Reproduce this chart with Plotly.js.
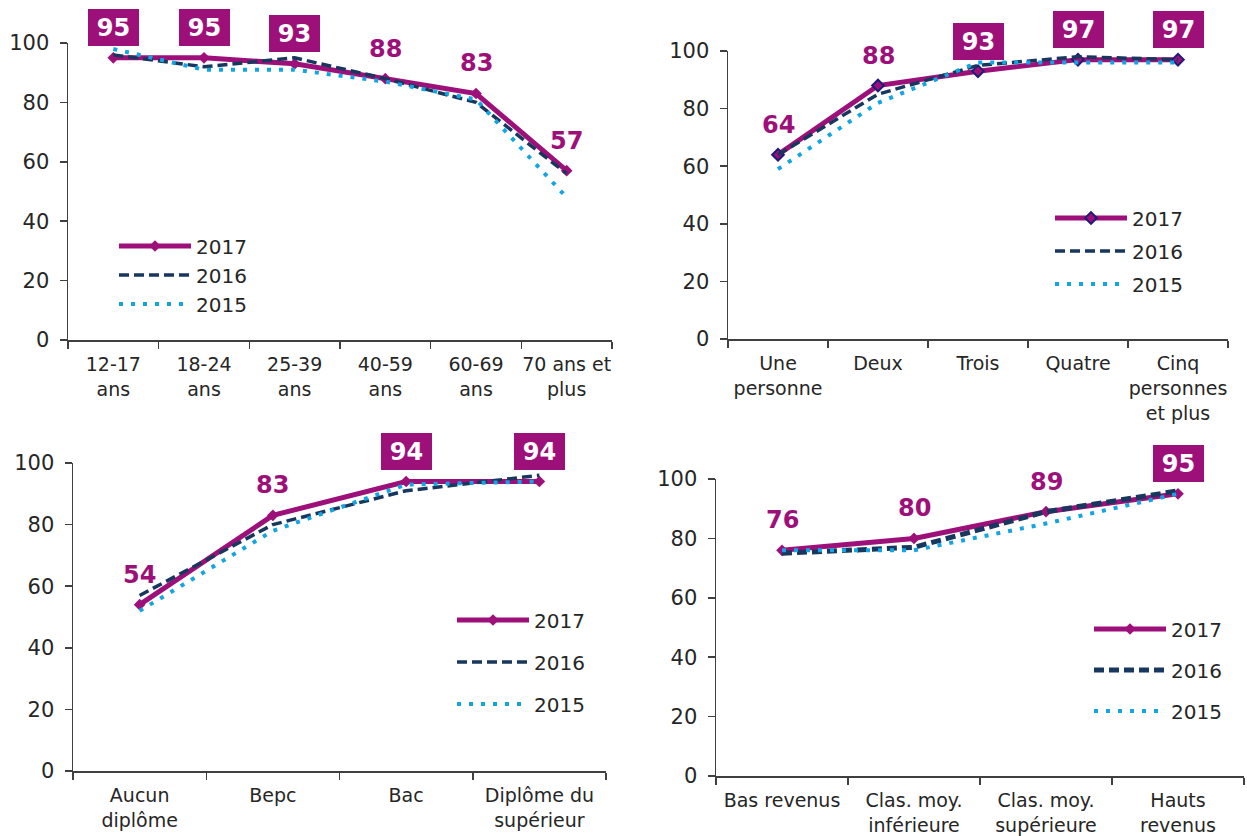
<!DOCTYPE html>
<html>
<head>
<meta charset="utf-8">
<script src="https://cdn.plot.ly/plotly-3.0.1.min.js"></script>
<style>
  html, body { margin: 0; padding: 0; background: #ffffff; }
  #chart { width: 1247px; height: 836px; }
</style>
</head>
<body>
<div id="chart"></div>
<script>
// ---------- DATA ----------
const years = ['2017', '2016', '2015'];

const ageCategories = ['12-17<br>ans', '18-24<br>ans', '25-39<br>ans', '40-59<br>ans', '60-69<br>ans', '70 ans et<br>plus'];
const age2017 = [95, 95, 93, 88, 83, 57];
const age2016 = [96, 92, 95, 88, 80, 56];
const age2015 = [98, 91, 91, 87, 81, 48];

const householdCategories = ['Une<br>personne', 'Deux', 'Trois', 'Quatre', 'Cinq<br>personnes<br>et plus'];
const household2017 = [64, 88, 93, 97, 97];
const household2016 = [64, 85, 95, 98, 97];
const household2015 = [59, 82, 96, 96, 96];

const diplomaCategories = ['Aucun<br>diplôme', 'Bepc', 'Bac', 'Diplôme du<br>supérieur'];
const diploma2017 = [54, 83, 94, 94];
const diploma2016 = [57, 80, 91, 96];
const diploma2015 = [52, 78, 93, 94];

const incomeCategories = ['Bas revenus', 'Clas. moy.<br>inférieure', 'Clas. moy.<br>supérieure', 'Hauts<br>revenus'];
const income2017 = [76, 80, 89, 95];
const income2016 = [75, 77, 89, 96];
const income2015 = [76, 76, 85, 95];

// ---------- STYLE ----------
const PURPLE = '#9D107A';
const NAVY = '#17375E';
const LIGHTBLUE = '#13A5E3';
const AXIS = '#404040';
const TEXT = '#262626';
const FONT = 'Verdana, "DejaVu Sans", sans-serif';
const BOX_THRESHOLD = 90;

const W = 1247, H = 836;
function px(a, b) { return [a / W, b / W]; }
function py(top, bottom) { return [1 - bottom / H, 1 - top / H]; }

const panels = [
  { cats: ageCategories, series: [age2017, age2016, age2015],
    xd: px(68, 612), yd: py(43, 340), legend: { left: 114, mid: 275, gap: 0 }, markerLine: false, dashW: 3.5 },
  { cats: householdCategories, series: [household2017, household2016, household2015],
    xd: px(728, 1228), yd: py(51, 339), legend: { left: 1050, mid: 251, gap: 4 }, markerLine: true, dashW: 3.5 },
  { cats: diplomaCategories, series: [diploma2017, diploma2016, diploma2015],
    xd: px(73, 606), yd: py(463, 771), legend: { left: 452, mid: 662, gap: 13 }, markerLine: false, dashW: 3.5 },
  { cats: incomeCategories, series: [income2017, income2016, income2015],
    xd: px(716, 1244), yd: py(479, 776), legend: { left: 1089, mid: 670, gap: 12 }, markerLine: false, dashW: 5 }
];

const traces = [];
const annotations = [];
const layout = {
  width: W, height: H,
  margin: { l: 0, r: 0, t: 0, b: 0 },
  paper_bgcolor: '#ffffff', plot_bgcolor: '#ffffff',
  font: { family: FONT, color: TEXT, size: 18 },
  showlegend: true,
  annotations: annotations
};

panels.forEach((p, i) => {
  const n = i + 1;
  const xa = 'x' + (n === 1 ? '' : n);
  const ya = 'y' + (n === 1 ? '' : n);
  const leg = 'legend' + (n === 1 ? '' : n);

  layout['xaxis' + (n === 1 ? '' : n)] = {
    domain: p.xd, anchor: ya, type: 'category',
    range: [-0.5, p.cats.length - 0.5],
    tickson: 'boundaries', ticks: 'outside', ticklen: 7, tickwidth: 1.5, tickcolor: AXIS,
    tickangle: 0, ticklabelstandoff: 7,
    showline: true, linecolor: AXIS, linewidth: 1.5,
    showgrid: false, zeroline: false,
    tickfont: { family: FONT, size: 19, color: TEXT },
    fixedrange: true
  };
  layout['yaxis' + (n === 1 ? '' : n)] = {
    domain: p.yd, anchor: xa, range: [0, 100], dtick: 20,
    ticks: 'outside', ticklen: 7, tickwidth: 1.5, tickcolor: AXIS,
    showline: true, linecolor: AXIS, linewidth: 1.5,
    showgrid: false, zeroline: false,
    tickfont: { family: FONT, size: 21, color: TEXT },
    ticklabelstandoff: 6,
    fixedrange: true
  };
  layout[leg] = {
    x: p.legend.left / W, xanchor: 'left',
    y: 1 - p.legend.mid / H, yanchor: 'middle',
    bgcolor: 'rgba(0,0,0,0)', borderwidth: 0,
    font: { family: FONT, size: 20, color: TEXT },
    traceorder: 'grouped', tracegroupgap: p.legend.gap,
    itemwidth: 72
  };

  const styles = [
    { line: { color: PURPLE, width: 5 }, mode: 'lines+markers',
      marker: { symbol: 'diamond', size: 9, color: PURPLE,
                line: p.markerLine ? { color: '#1F1A7A', width: 2 } : { width: 0 } } },
    { line: { color: NAVY, width: p.dashW, dash: '10px,5px' }, mode: 'lines' },
    { line: { color: LIGHTBLUE, width: 4, dash: '4px,8px' }, mode: 'lines' }
  ];

  p.series.forEach((vals, k) => {
    traces.push(Object.assign({
      type: 'scatter', x: p.cats, y: vals, name: years[k],
      xaxis: xa, yaxis: ya, legend: leg, legendgroup: 'p' + n + '_' + years[k],
      cliponaxis: false, hoverinfo: 'skip'
    }, styles[k]));
  });

  // data labels for 2017
  p.series[0].forEach((v, j) => {
    const boxed = v >= BOX_THRESHOLD;
    annotations.push({
      xref: xa, yref: ya, x: p.cats[j], y: v, yshift: 30,
      text: '<b>' + v + '</b>', showarrow: false,
      font: { family: FONT, size: 24, color: boxed ? '#ffffff' : PURPLE },
      bgcolor: boxed ? PURPLE : 'rgba(0,0,0,0)',
      width: boxed ? 51 : null, height: boxed ? 37 : null,
      borderpad: 0, borderwidth: 0,
      xanchor: 'center', yanchor: 'middle'
    });
  });
});

Plotly.newPlot('chart', traces, layout, { staticPlot: true, displayModeBar: false }).then(gd => {
  // lengthen legend line samples to match the original chart
  gd.querySelectorAll('.legend .legendlines path').forEach(path => {
    path.setAttribute('d', 'M5,0h72');
  });
  gd.querySelectorAll('.legend .legendpoints path').forEach(path => {
    path.setAttribute('transform', 'translate(41,0)');
  });
});
</script>
</body>
</html>
